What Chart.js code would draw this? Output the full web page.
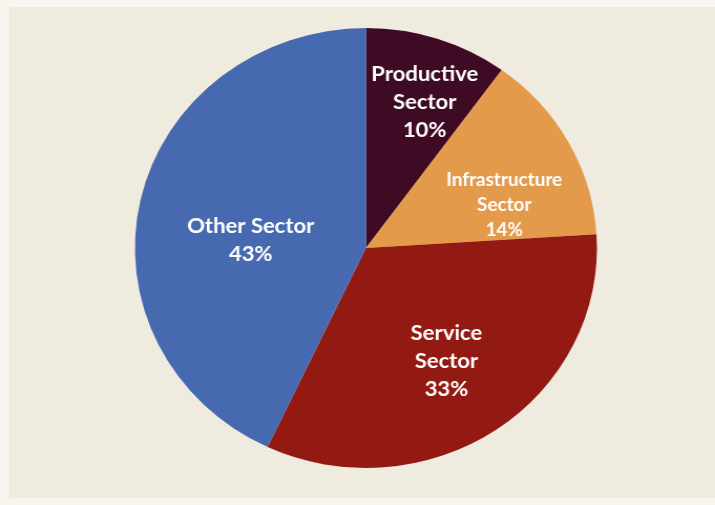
<!DOCTYPE html>
<html>
<head>
<meta charset="utf-8">
<script src="https://cdn.jsdelivr.net/npm/chart.js@4.4.1/dist/chart.umd.min.js"></script>
<style>
  html, body { margin: 0; padding: 0; }
  body { width: 715px; height: 505px; background: #f7f5ed; position: relative; overflow: hidden; }
  #panel { position: absolute; left: 9px; top: 7px; width: 706px; height: 491px; background: #efebde; }
  #wrap { position: absolute; left: 0; top: 0; width: 681px; height: 505px; transform: scaleX(1.05); transform-origin: 0 0; }
</style>
</head>
<body>
<div id="panel"></div>
<div id="wrap"><canvas id="pie"></canvas></div>
<script>
// Share of projects by sector
const sectorNames = [
  ['Productive', 'Sector'],
  ['Infrastructure', 'Sector'],
  ['Service', 'Sector'],
  ['Other Sector']
];
const sectorShares = [10, 14, 33, 43];
const sectorColors = ['#3e0a24', '#e39a4a', '#921a13', '#4769b0'];

// Where each slice label sits: fraction of the radius and a small turn (degrees) off the slice middle
const labelSpots = [
  { r: 0.71, turn: 3,    size: 21, lh: 28 },
  { r: 0.63, turn: 10.7, size: 18, lh: 25 },
  { r: 0.62, turn: 0,    size: 21, lh: 28 },
  { r: 0.50, turn: -8.6, size: 21, lh: 28 }
];

const sliceLabels = {
  id: 'sliceLabels',
  afterDatasetsDraw(chart) {
    const ctx = chart.ctx;
    const meta = chart.getDatasetMeta(0);
    meta.data.forEach((arc, i) => {
      const p = arc.getProps(['x', 'y', 'startAngle', 'endAngle', 'outerRadius'], true);
      const spot = labelSpots[i];
      const mid = (p.startAngle + p.endAngle) / 2 + spot.turn * Math.PI / 180;
      const cx = p.x + Math.cos(mid) * p.outerRadius * spot.r;
      const cy = p.y + Math.sin(mid) * p.outerRadius * spot.r;
      const lines = sectorNames[i].concat([sectorShares[i] + '%']);
      ctx.save();
      ctx.fillStyle = '#ffffff';
      ctx.font = 'bold ' + spot.size + 'px Lato, "Open Sans", sans-serif';
      ctx.textAlign = 'center';
      ctx.textBaseline = 'middle';
      const top = cy - (lines.length - 1) * spot.lh / 2;
      lines.forEach((t, k) => ctx.fillText(t, cx, top + k * spot.lh));
      ctx.restore();
    });
  }
};

new Chart(document.getElementById('pie'), {
  type: 'pie',
  data: {
    labels: sectorNames.map(n => n.join(' ')),
    datasets: [{
      data: sectorShares,
      backgroundColor: sectorColors,
      borderWidth: 0
    }]
  },
  options: {
    responsive: true,
    maintainAspectRatio: false,
    animation: false,
    layout: { padding: { left: 40, right: 24, top: 28, bottom: 37 } },
    plugins: {
      legend: { display: false },
      tooltip: { enabled: false }
    }
  },
  plugins: [sliceLabels]
});
</script>
</body>
</html>
